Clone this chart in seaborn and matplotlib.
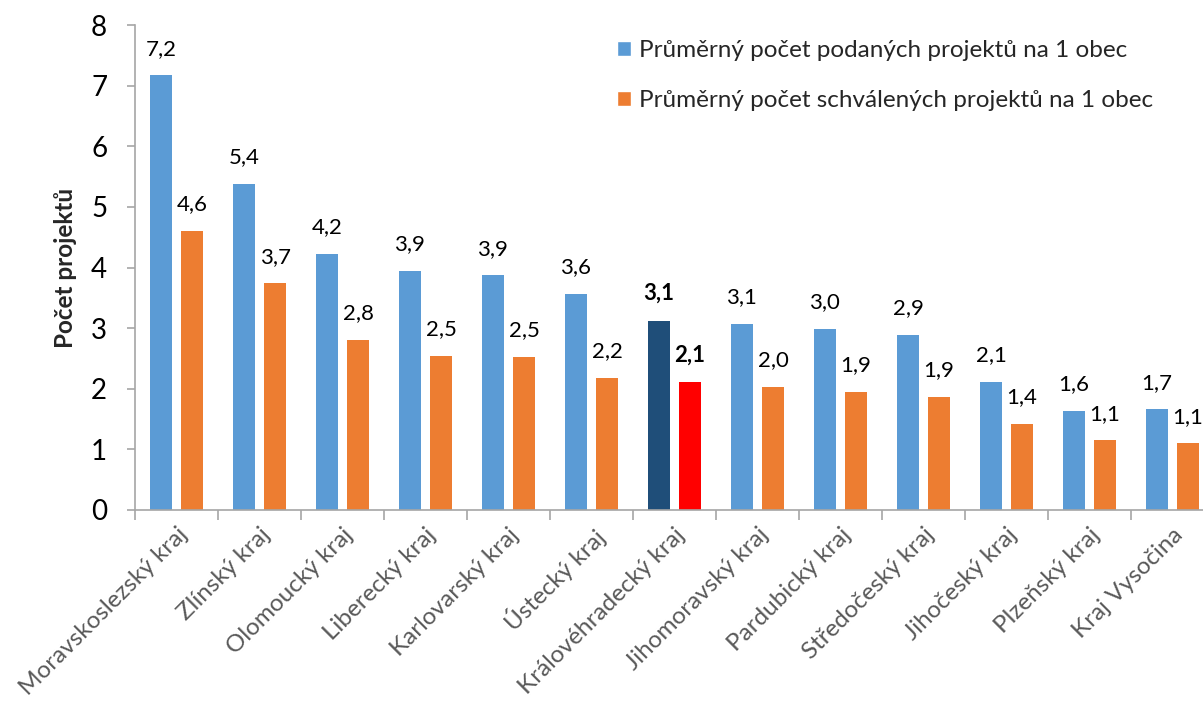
import matplotlib
matplotlib.use("Agg")
import matplotlib.pyplot as plt
import seaborn as sns
import pandas as pd

regions = ["Moravskoslezský kraj", "Zlínský kraj", "Olomoucký kraj", "Liberecký kraj",
           "Karlovarský kraj", "Ústecký kraj", "Královéhradecký kraj", "Jihomoravský kraj",
           "Pardubický kraj", "Středočeský kraj", "Jihočeský kraj", "Plzeňský kraj",
           "Kraj Vysočina"]
submitted = [7.17, 5.38, 4.22, 3.94, 3.87, 3.56, 3.12, 3.07, 2.99, 2.89, 2.11, 1.64, 1.66]
approved = [4.60, 3.74, 2.80, 2.54, 2.53, 2.18, 2.11, 2.03, 1.95, 1.87, 1.42, 1.15, 1.10]
series_names = ["Průměrný počet podaných projektů na 1 obec",
                "Průměrný počet schválených projektů na 1 obec"]
highlight = "Královéhradecký kraj"
y_ticks = [0, 1, 2, 3, 4, 5, 6, 7, 8]

df = pd.DataFrame({
    "kraj": regions * 2,
    "value": submitted + approved,
    "series": [series_names[0]] * len(regions) + [series_names[1]] * len(regions),
})

sns.set_theme(style="white")
plt.rcParams["font.family"] = ["Lato", "DejaVu Sans"]

fig = plt.figure(figsize=(12.03, 7.02), dpi=100)
ax = fig.add_axes([135 / 1203, (702 - 510) / 702, (1214 - 135) / 1203, (510 - 25) / 702])

colors = ["#5B9BD5", "#ED7D31"]
sns.barplot(data=df, x="kraj", y="value", hue="series", palette=colors,
            width=0.75, gap=0.3, ax=ax, legend=True, saturation=1)

hi_idx = regions.index(highlight)
n = len(regions)
for ci, cont in enumerate(ax.containers):
    for i, bar in enumerate(cont):
        bar.set_edgecolor("none")
        if i == hi_idx:
            bar.set_facecolor("#1F4E79" if ci == 0 else "#FF0000")
    vals = submitted if ci == 0 else approved
    for i, bar in enumerate(cont):
        txt = f"{vals[i]:.1f}".replace(".", ",")
        ax.annotate(txt, (bar.get_x() + bar.get_width() / 2, bar.get_height()),
                    xytext=(0, 12), textcoords="offset points", ha="center", va="bottom",
                    fontsize=16, color="black",
                    fontweight="bold" if i == hi_idx else "normal")

ax.set_ylim(0, 8)
ax.set_xlim(-0.5, n - 0.5)
ax.set_yticks(y_ticks)
ax.set_yticklabels([str(t) for t in y_ticks], fontsize=20, color="black")
ax.set_xticks(range(n))
ax.set_xticklabels(regions, rotation=45, ha="right", rotation_mode="anchor",
                   fontsize=17.5, color="#595959")
ax.tick_params(axis="x", length=0, pad=10)
ax.tick_params(axis="y", left=True, length=6, width=1.2, color="#A6A6A6", pad=14)
# category boundary ticks
ax.set_xticks([i - 0.5 for i in range(n + 1)], minor=True)
ax.tick_params(axis="x", which="minor", bottom=True, length=7, width=1.2, color="#A6A6A6")

for s in ["top", "right"]:
    ax.spines[s].set_visible(False)
for s in ["left", "bottom"]:
    ax.spines[s].set_color("#A6A6A6")
    ax.spines[s].set_linewidth(1.2)

ax.set_xlabel("")
ax.set_ylabel("Počet projektů", fontsize=17.5, fontweight="bold", labelpad=10)

handles, labs = ax.get_legend_handles_labels()
ax.legend(handles, labs, loc="upper left", bbox_to_anchor=(0.447, 0.969), frameon=False,
          fontsize=17.5, handlelength=0.55, handleheight=0.55, handletextpad=0.35,
          labelspacing=1.2, borderpad=0, borderaxespad=0)

fig.savefig("out.png", dpi=100)
